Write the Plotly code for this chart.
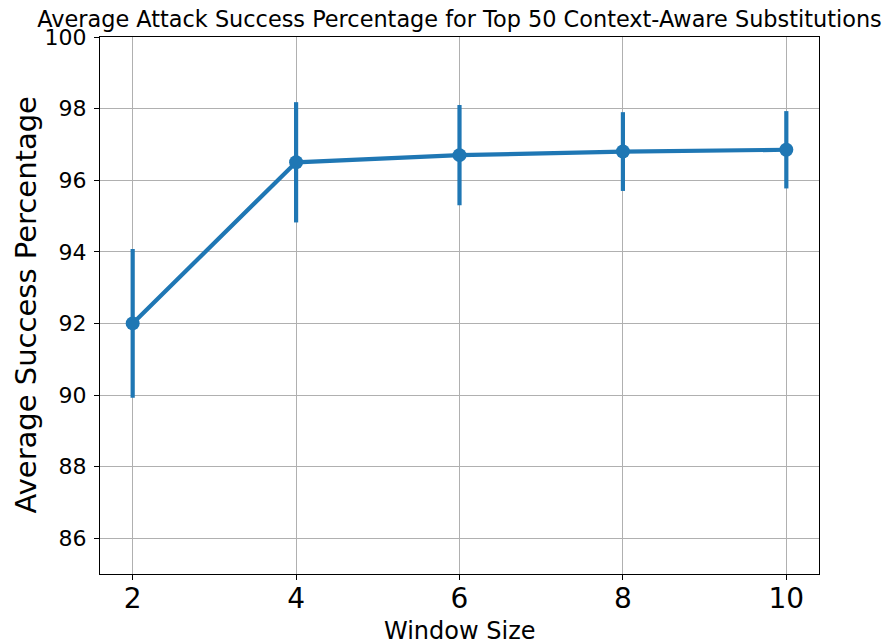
import plotly.graph_objects as go

# Average attack success for the top 50 context-aware substitutions
window_sizes = [2, 4, 6, 8, 10]
mean_success = [92.0, 96.5, 96.7, 96.8, 96.85]
error_margin = [2.08, 1.68, 1.40, 1.10, 1.08]

x_ticks = [2, 4, 6, 8, 10]
y_ticks = [86, 88, 90, 92, 94, 96, 98, 100]

BLUE = "#1f77b4"
FONT = "DejaVu Sans"

fig = go.Figure()
fig.add_trace(
    go.Scatter(
        x=window_sizes,
        y=mean_success,
        mode="lines+markers",
        line=dict(color=BLUE, width=4.2),
        marker=dict(color=BLUE, size=14),
        error_y=dict(
            type="data",
            array=error_margin,
            visible=True,
            color=BLUE,
            thickness=4.2,
            width=0,
        ),
        showlegend=False,
    )
)

W, H = 887, 644
L, R, T, B = 100, 68, 37, 70

fig.update_layout(
    width=W,
    height=H,
    margin=dict(l=L, r=R, t=T, b=B, pad=0),
    paper_bgcolor="white",
    plot_bgcolor="white",
    font=dict(family=FONT, color="black"),
    title=dict(
        text="Average Attack Success Percentage for Top 50 Context-Aware Substitutions",
        font=dict(family=FONT, size=22.4, color="black"),
        x=0.5,
        xref="paper",
        xanchor="center",
        y=1 - 19 / H,
        yref="container",
        yanchor="middle",
    ),
    xaxis=dict(
        range=[1.6, 10.4],
        tickvals=x_ticks,
        ticktext=[str(v) for v in x_ticks],
        tickfont=dict(family=FONT, size=28, color="black"),
        ticks="outside",
        ticklen=5,
        tickwidth=1.1,
        tickcolor="black",
        ticklabelstandoff=-6,
        showline=True,
        linecolor="black",
        linewidth=1.1,
        mirror=True,
        showgrid=True,
        gridcolor="#b0b0b0",
        gridwidth=1.1,
        zeroline=False,
    ),
    yaxis=dict(
        range=[85, 100],
        tickvals=y_ticks,
        ticktext=[str(v) for v in y_ticks],
        tickfont=dict(family=FONT, size=22, color="black"),
        ticks="outside",
        ticklen=5,
        tickwidth=1.1,
        tickcolor="black",
        ticklabelstandoff=3,
        showline=True,
        linecolor="black",
        linewidth=1.1,
        mirror=True,
        showgrid=True,
        gridcolor="#b0b0b0",
        gridwidth=1.1,
        zeroline=False,
    ),
    annotations=[
        dict(
            text="Window Size",
            xref="paper",
            yref="paper",
            x=0.5,
            y=-(631 - (H - B)) / (H - T - B),
            xanchor="center",
            yanchor="middle",
            showarrow=False,
            font=dict(family=FONT, size=24, color="black"),
        ),
        dict(
            text="Average Success Percentage",
            xref="paper",
            yref="paper",
            x=(25 - L) / (W - L - R),
            y=0.5,
            xanchor="center",
            yanchor="middle",
            textangle=-90,
            showarrow=False,
            font=dict(family=FONT, size=29, color="black"),
        ),
    ],
)

fig.write_html("out.html")
